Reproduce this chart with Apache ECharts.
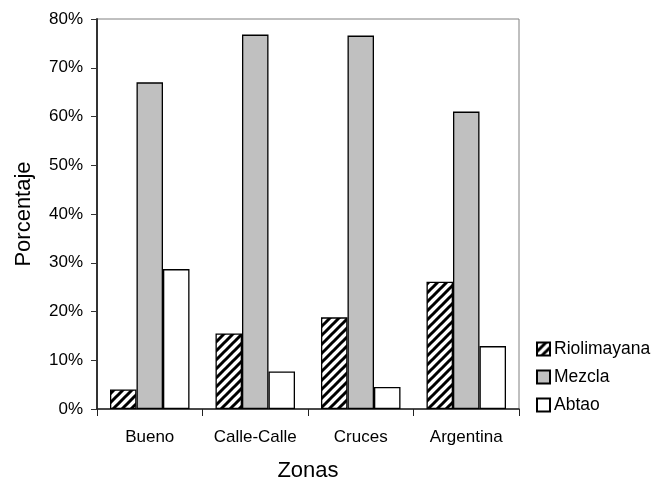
<!DOCTYPE html>
<html><head><meta charset="utf-8">
<script src="https://cdn.jsdelivr.net/npm/echarts@6/dist/echarts.min.js"></script>
<style>html,body{margin:0;padding:0;background:#fff;overflow:hidden;width:657px;height:487px}#c{width:657px;height:487px}</style>
</head><body><div id="c"></div>
<script>
var categories = ['Bueno', 'Calle-Calle', 'Cruces', 'Argentina'];
var riolimayana = [4.0, 15.5, 18.8, 26.1];
var mezcla = [67.0, 76.8, 76.6, 61.0];
var abtao = [28.7, 7.7, 4.5, 12.9];

function makeHatch() {
  var c = document.createElement('canvas');
  var s = 9;
  c.width = s; c.height = s;
  var ctx = c.getContext('2d');
  ctx.fillStyle = '#fff';
  ctx.fillRect(0, 0, s, s);
  ctx.strokeStyle = '#000';
  ctx.lineWidth = 3;
  ctx.beginPath();
  ctx.moveTo(-1, s + 1); ctx.lineTo(s + 1, -1);
  ctx.moveTo(-s / 2 - 1, s / 2 + 1); ctx.lineTo(s / 2 + 1, -s / 2 - 1);
  ctx.moveTo(s / 2 - 1, s * 1.5 + 1); ctx.lineTo(s * 1.5 + 1, s / 2 - 1);
  ctx.stroke();
  return c;
}
var hatch = { image: makeHatch(), repeat: 'repeat' };

var chart = echarts.init(document.getElementById('c'), null, { renderer: 'canvas', width: 657, height: 487 });
var font = 'Arial, "Liberation Sans", sans-serif';
chart.setOption({
  animation: false,
  backgroundColor: '#fff',
  grid: { left: 97, top: 19, width: 422, height: 396, show: true, borderColor: '#808080', borderWidth: 1, backgroundColor: 'transparent' },
  legend: {
    orient: 'vertical', left: 531, top: 335, itemWidth: 13, itemHeight: 13, itemGap: 10,
    icon: 'rect',
    textStyle: { fontFamily: font, fontSize: 17.5, color: '#000', padding: [0, 0, 0, -1] },
    data: ['Riolimayana', 'Mezcla', 'Abtao']
  },
  xAxis: {
    type: 'category', data: categories,
    name: 'Zonas', nameLocation: 'middle', nameGap: 51,
    nameTextStyle: { fontFamily: font, fontSize: 22, color: '#000' },
    axisLine: { lineStyle: { color: '#222', width: 1.5 } },
    axisTick: { show: true, length: 7, lineStyle: { color: '#222' }, alignWithLabel: false },
    axisLabel: { fontFamily: font, fontSize: 17, color: '#000', margin: 20, interval: 0 }
  },
  yAxis: {
    type: 'value', min: 0, max: 80, interval: 10,
    name: 'Porcentaje', nameLocation: 'middle', nameGap: 62, nameRotate: 90,
    nameTextStyle: { fontFamily: font, fontSize: 22, color: '#000' },
    splitLine: { show: false },
    axisLine: { show: true, lineStyle: { color: '#333', width: 2 } },
    axisTick: { show: true, length: 6, inside: false, lineStyle: { color: '#333' } },
    axisLabel: { fontFamily: font, fontSize: 17, color: '#000', margin: 14, formatter: '{value}%' }
  },
  series: [
    { name: 'Riolimayana', type: 'bar', data: riolimayana, barWidth: 26.5, barGap: '0%',
      itemStyle: { color: hatch, borderColor: '#000', borderWidth: 1.3 } },
    { name: 'Mezcla', type: 'bar', data: mezcla, barWidth: 26.5, barGap: '0%',
      itemStyle: { color: '#c0c0c0', borderColor: '#000', borderWidth: 1.3 } },
    { name: 'Abtao', type: 'bar', data: abtao, barWidth: 26.5, barGap: '0%',
      itemStyle: { color: '#fff', borderColor: '#000', borderWidth: 1.3 } }
  ]
});
</script></body></html>
